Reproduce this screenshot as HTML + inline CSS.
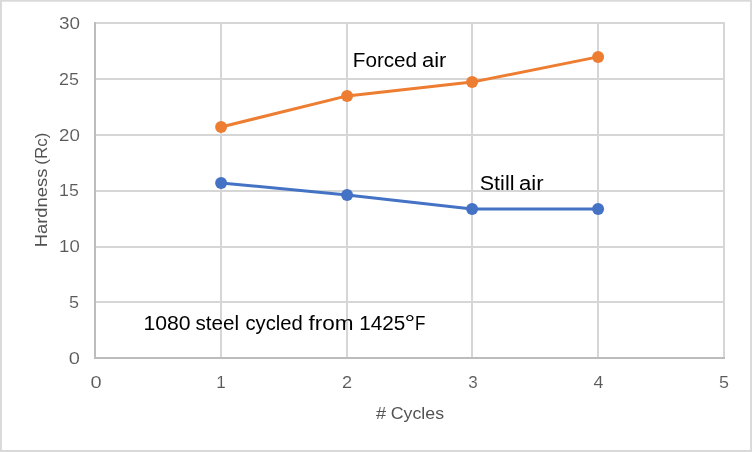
<!DOCTYPE html>
<html>
<head>
<meta charset="utf-8">
<title>Hardness vs # Cycles</title>
<style>
html,body{margin:0;padding:0;background:#fff;}
body{width:752px;height:452px;overflow:hidden;}
svg{display:block;}
text{font-family:"Liberation Sans",sans-serif;}
.ax{fill:#595959;font-size:16.3px;stroke:#fff;stroke-width:.1px;}
.ttl{fill:#525252;font-size:17.4px;}
.an{fill:#000;font-size:19.5px;}
</style>
</head>
<body>
<svg width="752" height="452" viewBox="0 0 752 452">
<rect x="0" y="0" width="752" height="452" fill="#d9d9d9"/>
<rect x="1.9" y="1.7" width="748.2" height="448.3" fill="#ffffff"/>
<!-- gridlines -->
<g fill="#d6d6d6" shape-rendering="crispEdges">
<rect x="94" y="22" width="631" height="2"/>
<rect x="94" y="78" width="631" height="2"/>
<rect x="94" y="134" width="631" height="2"/>
<rect x="94" y="190" width="631" height="2"/>
<rect x="94" y="246" width="631" height="2"/>
<rect x="94" y="301" width="631" height="2"/>
<rect x="220" y="22" width="2" height="336"/>
<rect x="346" y="22" width="2" height="336"/>
<rect x="471" y="22" width="2" height="336"/>
<rect x="597" y="22" width="2" height="336"/>
<rect x="723" y="22" width="2" height="337"/>
</g>
<!-- axes -->
<g fill="#bcbcbc" shape-rendering="crispEdges">
<rect x="94" y="22" width="2" height="337"/>
<rect x="94" y="357" width="631" height="2"/>
</g>
<!-- series -->
<polyline points="221.1,182.9 347.1,195 472.1,209 598.1,209" fill="none" stroke="#4472c4" stroke-width="3" stroke-linejoin="round" stroke-linecap="round"/>
<g fill="#4472c4">
<circle cx="221.1" cy="182.9" r="6"/>
<circle cx="347.1" cy="195" r="6"/>
<circle cx="472.1" cy="209" r="6"/>
<circle cx="598.1" cy="209" r="6"/>
</g>
<polyline points="221.1,127 347.1,95.9 472.1,82.1 598.1,56.9" fill="none" stroke="#ed7d31" stroke-width="3" stroke-linejoin="round" stroke-linecap="round"/>
<g fill="#ed7d31">
<circle cx="221.1" cy="127" r="6"/>
<circle cx="347.1" cy="95.9" r="6"/>
<circle cx="472.1" cy="82.1" r="6"/>
<circle cx="598.1" cy="56.9" r="6"/>
</g>
<!-- tick labels, axis titles and annotations -->
<text class="an" y="67.40"><tspan x="352.75" textLength="64.39" lengthAdjust="spacingAndGlyphs">Forced</tspan> <tspan x="422.00" textLength="24.32" lengthAdjust="spacingAndGlyphs">air</tspan></text>
<text class="an" y="189.90"><tspan x="479.75" textLength="34.70" lengthAdjust="spacingAndGlyphs">Still</tspan> <tspan x="519.00" textLength="24.58" lengthAdjust="spacingAndGlyphs">air</tspan></text>
<text class="an" y="330.30"><tspan x="143.50" textLength="47.12" lengthAdjust="spacingAndGlyphs">1080</tspan> <tspan x="195.50" textLength="43.59" lengthAdjust="spacingAndGlyphs">steel</tspan> <tspan x="245.50" textLength="57.34" lengthAdjust="spacingAndGlyphs">cycled</tspan> <tspan x="308.50" textLength="45.08" lengthAdjust="spacingAndGlyphs">from</tspan> <tspan x="359.25" textLength="46.12" lengthAdjust="spacingAndGlyphs">1425</tspan><tspan x="404.50" textLength="10.71" lengthAdjust="spacingAndGlyphs">°</tspan><tspan x="415.00" textLength="10.40" lengthAdjust="spacingAndGlyphs">F</tspan></text>
<text class="ttl" y="418.70"><tspan x="376.00" textLength="10.04" lengthAdjust="spacingAndGlyphs">#</tspan> <tspan x="390.75" textLength="53.30" lengthAdjust="spacingAndGlyphs">Cycles</tspan></text>
<text class="ttl" transform="translate(47.30 0) rotate(-90)" y="0"><tspan x="-247.25" textLength="78.57" lengthAdjust="spacingAndGlyphs">Hardness</tspan> <tspan x="-164.75" textLength="32.15" lengthAdjust="spacingAndGlyphs">(Rc)</tspan></text>
<text class="ax" x="58.90" y="29.00" textLength="21.00" lengthAdjust="spacingAndGlyphs">30</text>
<text class="ax" x="59.10" y="85.00" textLength="19.95" lengthAdjust="spacingAndGlyphs">25</text>
<text class="ax" x="59.10" y="141.00" textLength="20.83" lengthAdjust="spacingAndGlyphs">20</text>
<text class="ax" x="59.10" y="196.00" textLength="19.77" lengthAdjust="spacingAndGlyphs">15</text>
<text class="ax" x="59.10" y="252.00" textLength="20.65" lengthAdjust="spacingAndGlyphs">10</text>
<text class="ax" x="68.90" y="308.00" textLength="10.01" lengthAdjust="spacingAndGlyphs">5</text>
<text class="ax" x="68.70" y="364.00" textLength="11.15" lengthAdjust="spacingAndGlyphs">0</text>
<text class="ax" x="90.50" y="388.00" textLength="11.13" lengthAdjust="spacingAndGlyphs">0</text>
<text class="ax" x="216.30" y="388.00" textLength="9.51" lengthAdjust="spacingAndGlyphs">1</text>
<text class="ax" x="341.95" y="388.00" textLength="10.13" lengthAdjust="spacingAndGlyphs">2</text>
<text class="ax" x="468.20" y="388.00" textLength="9.47" lengthAdjust="spacingAndGlyphs">3</text>
<text class="ax" x="593.40" y="388.00" textLength="9.95" lengthAdjust="spacingAndGlyphs">4</text>
<text class="ax" x="719.00" y="388.00" textLength="9.95" lengthAdjust="spacingAndGlyphs">5</text>
</svg>
</body>
</html>
